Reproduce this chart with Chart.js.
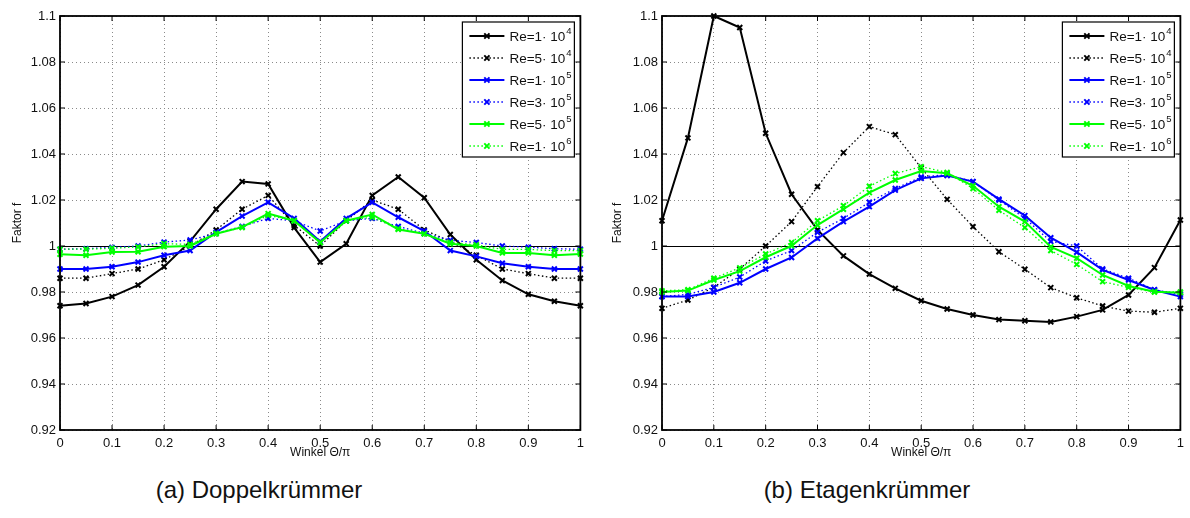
<!DOCTYPE html>
<html>
<head>
<meta charset="utf-8">
<script src="https://cdn.jsdelivr.net/npm/chart.js@4.4.1/dist/chart.umd.min.js"></script>
<style>
  body { margin: 0; background: #fff; width: 1190px; height: 518px; overflow: hidden; position: relative;
         font-family: "Liberation Sans", Arial, sans-serif; }
  .wrap { position: absolute; top: 0; height: 470px; }
  #wrapA { left: 0; width: 590px; }
  #wrapB { left: 602px; width: 588px; }
  .cap { position: absolute; top: 476px; width: 400px; text-align: center; font-size: 24px; color: #111; }
</style>
</head>
<body>
<div class="wrap" id="wrapA"><canvas id="chartA"></canvas></div>
<div class="wrap" id="wrapB"><canvas id="chartB"></canvas></div>
<div class="cap" style="left:59px">(a) Doppelkrümmer</div>
<div class="cap" style="left:667px">(b) Etagenkrümmer</div>
<script>
// Winkel Θ/π
const angles = [0, 0.05, 0.1, 0.15, 0.2, 0.25, 0.3, 0.35, 0.4, 0.45, 0.5,
                0.55, 0.6, 0.65, 0.7, 0.75, 0.8, 0.85, 0.9, 0.95, 1];
const xTickValues = [0, 0.1, 0.2, 0.3, 0.4, 0.5, 0.6, 0.7, 0.8, 0.9, 1];
const yTickValues = [0.92, 0.94, 0.96, 0.98, 1, 1.02, 1.04, 1.06, 1.08, 1.1];

const reLabels = ['Re=1· 10', 'Re=5· 10', 'Re=1· 10', 'Re=3· 10', 'Re=5· 10', 'Re=1· 10'];
const reExponents = ['4', '4', '5', '5', '5', '6'];
const reColors = ['#000000', '#000000', '#0000ff', '#0000ff', '#00ff00', '#00ff00'];
const reDotted = [false, true, false, true, false, true];

// (a) Doppelkrümmer
const dkRe1e4 = [0.974, 0.975, 0.978, 0.983, 0.991, 1.002, 1.016, 1.028, 1.027, 1.008, 0.993,
                 1.001, 1.022, 1.030, 1.021, 1.005, 0.994, 0.985, 0.979, 0.976, 0.974];
const dkRe5e4 = [0.986, 0.986, 0.988, 0.990, 0.994, 1.000, 1.007, 1.016, 1.022, 1.009, 1.000,
                 1.011, 1.020, 1.016, 1.007, 1.002, 0.996, 0.990, 0.988, 0.986, 0.986];
const dkRe1e5 = [0.990, 0.990, 0.991, 0.993, 0.996, 0.998, 1.006, 1.013, 1.019, 1.012, 1.002,
                 1.012, 1.019, 1.0125, 1.0065, 0.998, 0.9955, 0.9925, 0.991, 0.990, 0.990];
const dkRe3e5 = [0.9986, 0.9988, 0.9994, 1.000, 1.0017, 1.0026, 1.0055, 1.0085, 1.012, 1.011, 1.0065,
                 1.011, 1.012, 1.0085, 1.0055, 1.0025, 1.0015, 1.000, 0.9995, 0.9988, 0.9986];
const dkRe5e5 = [0.9964, 0.996, 0.9974, 0.9975, 0.9997, 1.000, 1.0053, 1.0082, 1.0141, 1.011, 1.0015,
                 1.011, 1.0137, 1.0072, 1.0053, 1.001, 1.000, 0.997, 0.997, 0.996, 0.9965];
const dkRe1e6 = [0.9986, 0.9986, 0.999, 0.9996, 1.001, 1.0007, 1.0055, 1.008, 1.0133, 1.011, 1.0015,
                 1.011, 1.0125, 1.0075, 1.0053, 1.0015, 1.0005, 0.9985, 0.9985, 0.998, 0.998];

// (b) Etagenkrümmer
const ekRe1e4 = [1.011, 1.047, 1.100, 1.095, 1.049, 1.0225, 1.007, 0.9957, 0.9878, 0.9816, 0.9762,
                 0.9726, 0.970, 0.968, 0.9675, 0.967, 0.9693, 0.9722, 0.9787, 0.9906, 1.0113];
const ekRe5e4 = [0.9729, 0.9765, 0.982, 0.990, 1.000, 1.0106, 1.0258, 1.0406, 1.0519, 1.0484, 1.034,
                 1.0203, 1.0084, 0.9975, 0.9899, 0.9819, 0.9775, 0.9739, 0.9717, 0.9712, 0.9729];
const ekRe1e5 = [0.978, 0.978, 0.980, 0.984, 0.990, 0.995, 1.0033, 1.0106, 1.0171, 1.0243, 1.0294,
                 1.0306, 1.028, 1.0204, 1.0132, 1.0036, 0.9973, 0.9896, 0.9852, 0.9809, 0.978];
const ekRe3e5 = [0.978, 0.979, 0.982, 0.9865, 0.9935, 0.998, 1.006, 1.012, 1.019, 1.025, 1.030,
                 1.031, 1.028, 1.020, 1.012, 1.002, 1.000, 0.990, 0.986, 0.981, 0.979];
const ekRe5e5 = [0.980, 0.9806, 0.9852, 0.9891, 0.9951, 1.0001, 1.0091, 1.016, 1.0232, 1.0287, 1.0326,
                 1.0316, 1.0262, 1.0171, 1.0106, 0.9996, 0.9947, 0.9874, 0.9826, 0.9801, 0.9797];
const ekRe1e6 = [0.9805, 0.981, 0.986, 0.9905, 0.9965, 1.0015, 1.011, 1.0175, 1.026, 1.0315, 1.0345,
                 1.032, 1.025, 1.0155, 1.008, 0.998, 0.992, 0.9845, 0.982, 0.980, 0.980];

const FONT = '"Liberation Sans", Arial, sans-serif';

function fmt(v) { return String(Number(v.toFixed(2))); }

// Rahmen, Teilstriche innen und Linie bei f = 1
const framePlugin = {
  id: 'frame',
  beforeDatasetsDraw(chart) {
    const { ctx, chartArea: a, scales: { y } } = chart;
    const y1 = Math.round(y.getPixelForValue(1)) + 0.5;
    ctx.save();
    ctx.strokeStyle = '#000';
    ctx.lineWidth = 1;
    ctx.beginPath();
    ctx.moveTo(a.left, y1);
    ctx.lineTo(a.right, y1);
    ctx.stroke();
    ctx.restore();
  },
  afterDatasetsDraw(chart) {
    const { ctx, chartArea: a, scales: { x, y } } = chart;
    ctx.save();
    ctx.strokeStyle = '#000';
    ctx.lineWidth = 1;
    ctx.beginPath();
    xTickValues.forEach(v => {
      const px = x.getPixelForValue(v);
      ctx.moveTo(px, a.bottom); ctx.lineTo(px, a.bottom - 5);
      ctx.moveTo(px, a.top); ctx.lineTo(px, a.top + 5);
    });
    yTickValues.forEach(v => {
      const py = y.getPixelForValue(v);
      ctx.moveTo(a.left, py); ctx.lineTo(a.left + 5, py);
      ctx.moveTo(a.right, py); ctx.lineTo(a.right - 5, py);
    });
    ctx.stroke();
    ctx.lineWidth = 1.8;
    ctx.strokeRect(a.left, a.top, a.right - a.left, a.bottom - a.top);
    ctx.restore();
  }
};

// Legende im Diagramm, mit Exponent als Hochzahl
const legendPlugin = {
  id: 'reLegend',
  afterDraw(chart) {
    const { ctx, chartArea: a } = chart;
    const w = 112, h = 135;
    const left = a.right - w - 6, top = a.top + 6;
    ctx.save();
    ctx.fillStyle = '#fff';
    ctx.fillRect(left, top, w, h);
    ctx.strokeStyle = '#000';
    ctx.lineWidth = 1.2;
    ctx.strokeRect(left, top, w, h);
    chart.data.datasets.forEach((ds, i) => {
      const cy = top + 14 + i * 22;
      ctx.strokeStyle = ds.borderColor;
      ctx.lineWidth = ds.borderWidth;
      ctx.setLineDash(ds.borderDash || []);
      ctx.beginPath();
      ctx.moveTo(left + 7, cy);
      ctx.lineTo(left + 42, cy);
      ctx.stroke();
      ctx.setLineDash([]);
      const mx = left + 24.5, r = 2.6;
      ctx.lineWidth = 2;
      ctx.beginPath();
      ctx.moveTo(mx - r, cy - r); ctx.lineTo(mx + r, cy + r);
      ctx.moveTo(mx - r, cy + r); ctx.lineTo(mx + r, cy - r);
      ctx.stroke();
      ctx.fillStyle = '#111';
      ctx.textBaseline = 'middle';
      ctx.textAlign = 'left';
      ctx.font = '13.5px ' + FONT;
      ctx.fillText(reLabels[i], left + 47, cy + 1);
      const tw = ctx.measureText(reLabels[i]).width;
      ctx.font = '9.5px ' + FONT;
      ctx.fillText(reExponents[i], left + 47 + tw + 1, cy - 5);
    });
    ctx.restore();
  }
};

function makeDatasets(series) {
  return series.map((vals, i) => ({
    label: reLabels[i] + reExponents[i],
    data: angles.map((a, k) => ({ x: a, y: vals[k] })),
    borderColor: reColors[i],
    backgroundColor: reColors[i],
    borderWidth: reDotted[i] ? 1.3 : 2,
    borderDash: reDotted[i] ? [1.5, 2.5] : [],
    pointStyle: 'crossRot',
    pointRadius: 3.5,
    pointBorderWidth: 2,
    pointHoverRadius: 3.5,
    tension: 0,
    fill: false,
    clip: false,
    order: 6 - i
  }));
}

function makeChart(id, series, padRight, titlePad) {
  return new Chart(document.getElementById(id), {
    type: 'line',
    data: { datasets: makeDatasets(series) },
    plugins: [framePlugin, legendPlugin],
    options: {
      responsive: true,
      maintainAspectRatio: false,
      animation: false,
      events: [],
      layout: { padding: { top: 16, right: padRight, left: 0, bottom: 0 } },
      plugins: { legend: { display: false }, tooltip: { enabled: false } },
      scales: {
        x: {
          type: 'linear', min: 0, max: 1,
          afterBuildTicks: s => { s.ticks = xTickValues.map(v => ({ value: v })); },
          afterFit: s => { s.height = 40; },
          grid: { color: '#8a8a8a', lineWidth: 1, drawTicks: false },
          border: { display: false, dash: [1, 3] },
          ticks: { autoSkip: false, maxRotation: 0, padding: 6, color: '#111',
                   font: { family: FONT, size: 13 }, callback: v => fmt(v) },
          title: { display: true, text: 'Winkel Θ/π', color: '#111',
                   font: { family: FONT, size: 12 }, padding: { top: 0, bottom: 10 } }
        },
        y: {
          type: 'linear', min: 0.92, max: 1.1,
          afterBuildTicks: s => { s.ticks = yTickValues.map(v => ({ value: v })); },
          afterFit: s => { s.width = 60; },
          grid: { color: '#8a8a8a', lineWidth: 1, drawTicks: false },
          border: { display: false, dash: [1, 3] },
          ticks: { autoSkip: false, padding: 4, color: '#111',
                   font: { family: FONT, size: 13 }, callback: v => fmt(v) },
          title: { display: true, text: 'Faktor f', color: '#111',
                   font: { family: FONT, size: 12 }, padding: { top: titlePad, bottom: 0 } }
        }
      }
    }
  });
}

makeChart('chartA', [dkRe1e4, dkRe5e4, dkRe1e5, dkRe3e5, dkRe5e5, dkRe1e6], 5, 10);
makeChart('chartB', [ekRe1e4, ekRe5e4, ekRe1e5, ekRe3e5, ekRe5e5, ekRe1e6], 3, 8);
</script>
</body>
</html>
